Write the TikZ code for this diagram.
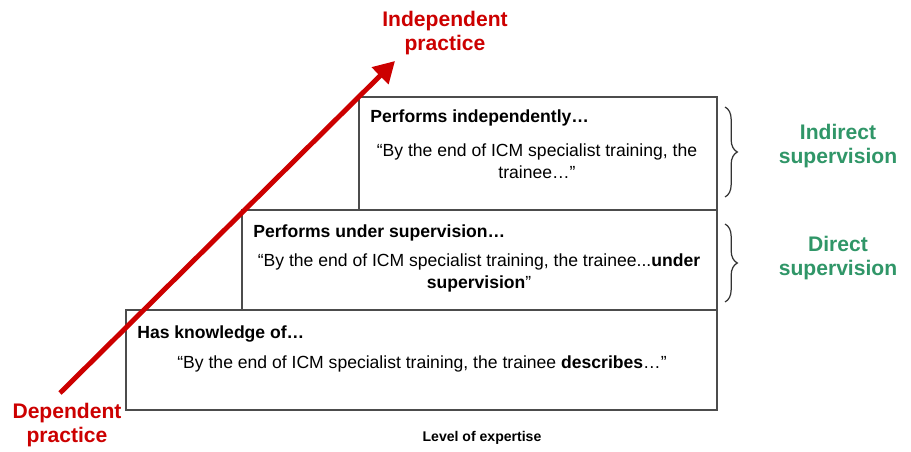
\documentclass[tikz,border=0pt]{standalone}
\usepackage{fontspec}
\setmainfont{Liberation Sans}
\usetikzlibrary{arrows.meta,decorations.pathreplacing}
\definecolor{practicered}{RGB}{204,0,0}
\definecolor{supergreen}{RGB}{48,150,104}

\begin{document}
\begin{tikzpicture}[x=0.02cm, y=-0.02cm,
level_style/.style={draw=black!70, line width=0.8pt, fill=white, inner sep=0pt},
head_style/.style={anchor=west, inner sep=0pt, font=\fontsize{10}{12}\selectfont\bfseries},
quote_style/.style={align=center, inner sep=0pt, font=\fontsize{10}{12.5}\selectfont},
practice_style/.style={align=center, inner sep=0pt, text=practicered, font=\fontsize{12}{14}\selectfont\bfseries},
super_style/.style={align=center, inner sep=0pt, text=supergreen, font=\fontsize{12}{14}\selectfont\bfseries},
brace_style/.style={decorate, decoration={brace, amplitude=7pt}, draw=black!80, line width=0.7pt},
arrow_style/.style={draw=practicered, line width=2.8pt, -{Triangle[length=12pt,width=13pt]}}]
\useasboundingbox (0,0) rectangle (911,452);

\node[level_style, minimum width=7.16cm, minimum height=2.26cm] (indep) at (538,153.5) {};
\node[level_style, minimum width=9.5cm, minimum height=2cm] (under) at (479.5,260) {};
\node[level_style, minimum width=11.82cm, minimum height=2cm] (know) at (421.5,360) {};

\node[head_style] (indephead) at (370,118) {Performs independently…};
\node[quote_style] (indepquote) at (537,161) {“By the end of ICM specialist training, the\\ trainee…”};
\node[head_style] (underhead) at (253,233) {Performs under supervision…};
\node[quote_style] (underquote) at (479,273) {“By the end of ICM specialist training, the trainee...\textbf{under}\\ \textbf{supervision}”};
\node[head_style] (knowhead) at (137,334) {Has knowledge of…};
\node[quote_style] (knowquote) at (422,364) {“By the end of ICM specialist training, the trainee \textbf{describes}…”};

\coordinate (indtop) at (725,107);
\coordinate (indbot) at (725,197);
\coordinate (dirtop) at (725,224);
\coordinate (dirbot) at (725,302);
\draw[brace_style] (indtop) -- (indbot);
\draw[brace_style] (dirtop) -- (dirbot);
\node[super_style] (indirect) at (838,146) {Indirect\\supervision};
\node[super_style] (direct) at (838,258) {Direct\\supervision};

\node[practice_style] (independent) at (445,33) {Independent\\practice};
\node[practice_style] (dependent) at (67,425) {Dependent\\practice};
\coordinate (arrowstart) at (60,393);
\coordinate (arrowtip) at (395,61);
\draw[arrow_style] (arrowstart) -- (arrowtip);

\node[inner sep=0pt, font=\fontsize{8}{10}\selectfont\bfseries] (expertise) at (482,438) {Level of expertise};
\end{tikzpicture}
\end{document}
